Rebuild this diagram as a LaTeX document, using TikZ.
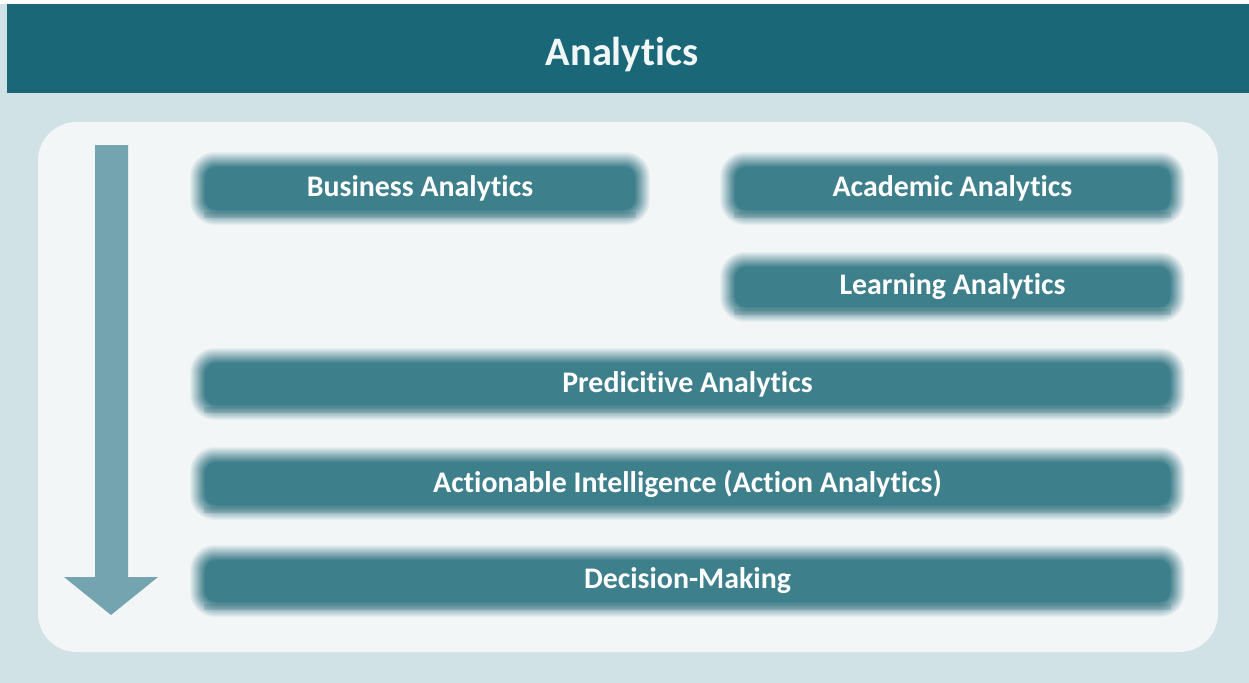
\documentclass[tikz,border=0pt]{standalone}
\usepackage{fontspec}
\setmainfont{Carlito}[Ligatures={NoCommon}]
\usepackage{tikz}

\definecolor{bandteal}{HTML}{196777}
\definecolor{backblue}{HTML}{D1E2E6}
\definecolor{panelwhite}{HTML}{F3F6F7}
\definecolor{boxteal}{HTML}{3E7F8C}
\definecolor{arrowblue}{HTML}{75A4B1}

\tikzset{
  boxlabel/.style={text=white, font=\bfseries\fontsize{17}{19}\selectfont, inner sep=0pt},
  blurlayer/.style={fill=boxteal, draw=none},
}

\begin{document}
\begin{tikzpicture}[x=0.02cm, y=-0.02cm]

  % --- Background and frame ---
  \useasboundingbox (0,0) rectangle (1249,683);
  \fill[backblue] (0,4) rectangle (1249,683);
  \fill[bandteal] (7,4) rectangle (1249,93);
  \node[text=white!94!bandteal, font=\bfseries\fontsize{23}{26}\selectfont]
    (title) at (622,54) {Analytics};

  % --- Inner panel ---
  \fill[panelwhite, rounded corners=22] (38,122) rectangle (1218,652);

  % --- Down arrow ---
  \fill[arrowblue] (95,145) -- (128,145) -- (128,577) -- (158,577)
    -- (111,615) -- (64,577) -- (95,577) -- cycle;

  % --- Blurred boxes ---
  \foreach \xa/\ya/\xb/\yb/\name/\txt in {
      200/162/640/215/business/Business Analytics,
      730/162/1175/215/academic/Academic Analytics,
      730/262/1175/312/learning/Learning Analytics,
      200/358/1175/410/predictive/Predicitive Analytics,
      200/457/1175/510/actionable/{Actionable Intelligence (Action Analytics)},
      200/555/1175/607/decision/Decision-Making} {
    \foreach \i [evaluate=\i as \d using 11-\i,
                 evaluate=\i as \op using 1/(17-\i)] in {1,...,16}
      \fill[blurlayer, opacity=\op, rounded corners=9+\d/2]
        (\xa-\d,\ya-\d) rectangle (\xb+\d,\yb+\d);
    \fill[boxteal!70!black, opacity=0.15] (\xa+4,\yb-3) rectangle (\xb-4,\yb+3);
    \node[boxlabel] (\name) at ({(\xa+\xb)/2},{(\ya+\yb)/2}) {\txt};
  }

\end{tikzpicture}
\end{document}
